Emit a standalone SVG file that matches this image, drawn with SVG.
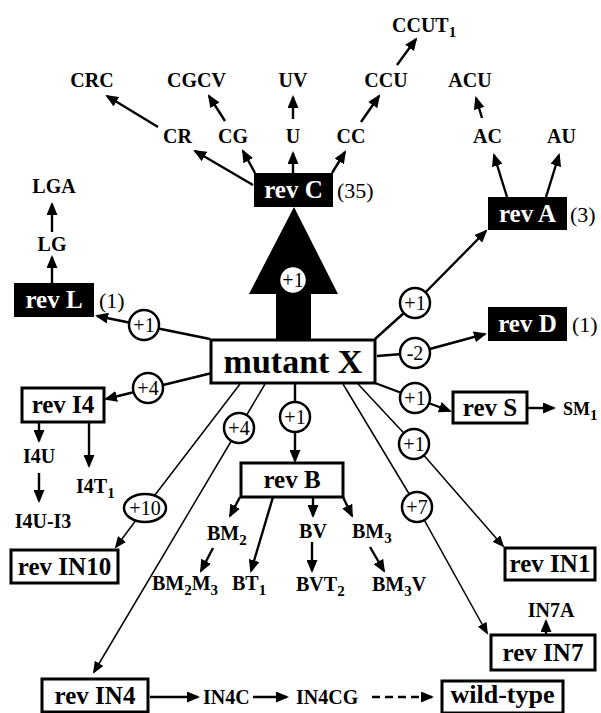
<svg xmlns="http://www.w3.org/2000/svg" width="601" height="713" viewBox="0 0 601 713">
<style>
text{font-family:"Liberation Serif","Times New Roman",serif;fill:#000}
.l{font-size:20px;font-weight:bold}
.b{font-size:25px;font-weight:bold;text-anchor:middle}
.w rect{fill:#fff;stroke:#000;stroke-width:3}
.k rect{fill:#000}
.k text{fill:#fff}
.n{font-size:22px}
.c circle,.c ellipse{fill:#fff;stroke:#000;stroke-width:2.5}
.c text{font-size:20px;text-anchor:middle}
.s{font-size:15px}
.t{stroke:#000;stroke-width:2.4;fill:none}
.h{stroke:#000;stroke-width:1.5;fill:none}
</style>
<defs>
<marker id="a" markerUnits="userSpaceOnUse" markerWidth="14" markerHeight="11" refX="11" refY="5.5" orient="auto"><path d="M0,0 L13,5.5 L0,11 z"/></marker>
<marker id="m" markerUnits="userSpaceOnUse" markerWidth="13" markerHeight="10" refX="10" refY="5" orient="auto"><path d="M0,0 L12,5 L0,10 z"/></marker>
</defs>
<g id="connectors">
<polygon points="276,340 276,294 249,294 294,207 338,294 311,294 311,340"/>
<g class="t" marker-end="url(#a)">
<line x1="253" y1="185" x2="195" y2="151"/>
<line x1="255" y1="173" x2="243" y2="151"/>
<line x1="293" y1="173" x2="293" y2="153"/>
<line x1="332" y1="173" x2="345" y2="152"/>
<line x1="293" y1="119" x2="293" y2="97"/>
<line x1="158" y1="127" x2="107" y2="96"/>
<line x1="225" y1="121" x2="209" y2="96"/>
<line x1="361" y1="122" x2="379" y2="96"/>
<line x1="397" y1="65" x2="416" y2="39"/>
<line x1="507" y1="197" x2="494" y2="155"/>
<line x1="546" y1="197" x2="559" y2="155"/>
<line x1="482" y1="118" x2="476" y2="98"/>
<line x1="52" y1="283" x2="52" y2="257"/>
<line x1="52" y1="232" x2="52" y2="204"/>
<line x1="39" y1="422" x2="39" y2="441"/>
<line x1="89" y1="422" x2="89" y2="466"/>
<line x1="39" y1="473" x2="39" y2="501"/>
<line x1="240" y1="497" x2="230" y2="516"/>
<line x1="273" y1="497" x2="251" y2="571"/>
<line x1="313" y1="497" x2="313" y2="516"/>
<line x1="343" y1="497" x2="352" y2="516"/>
<line x1="213" y1="548" x2="201" y2="571"/>
<line x1="312" y1="542" x2="312" y2="571"/>
<line x1="370" y1="547" x2="384" y2="571"/>
<line x1="527" y1="408" x2="554" y2="408"/>
<line x1="546" y1="635" x2="546" y2="621"/>
<line x1="150" y1="697" x2="198" y2="697"/>
<line x1="253" y1="697" x2="287" y2="697"/>
<line x1="372" y1="697" x2="432" y2="697" stroke-dasharray="8,5"/>
<line x1="210" y1="339" x2="97" y2="316"/>
<line x1="212" y1="373" x2="106" y2="399"/>
<line x1="295" y1="383" x2="295" y2="461"/>
</g>
<path class="t" d="M375,339 L415,303"/>
<line class="t" x1="415" y1="303" x2="486" y2="231" marker-end="url(#a)"/>
<path class="t" d="M377,356 L415,353"/>
<line class="t" x1="415" y1="353" x2="485" y2="334" marker-end="url(#a)"/>
<path class="t" d="M375,383 L415,398"/>
<line class="t" x1="415" y1="398" x2="450" y2="411" marker-end="url(#a)"/>
<g class="h">
<path d="M358,384 L414,444"/>
<line x1="414" y1="444" x2="503" y2="546" marker-end="url(#m)"/>
<path d="M343,384 L417,507"/>
<line x1="417" y1="507" x2="487" y2="633" marker-end="url(#m)"/>
<path d="M240,384 L145,508"/>
<line x1="145" y1="508" x2="116" y2="547" marker-end="url(#m)"/>
<path d="M265,384 L239,428"/>
<line x1="239" y1="428" x2="94" y2="672" marker-end="url(#m)"/>
</g>
</g>
<g id="badges" class="c">
<circle cx="293" cy="280" r="14" stroke="none"/><text x="293" y="287">+1</text>
<circle cx="144" cy="325" r="15"/><text x="144" y="332">+1</text>
<circle cx="148" cy="388" r="15"/><text x="148" y="395">+4</text>
<circle cx="415" cy="303" r="15"/><text x="415" y="310">+1</text>
<circle cx="415" cy="353" r="15"/><text x="415" y="360">-2</text>
<circle cx="415" cy="398" r="15"/><text x="415" y="405">+1</text>
<circle cx="414" cy="444" r="15"/><text x="414" y="451">+1</text>
<circle cx="295" cy="417" r="15"/><text x="295" y="424">+1</text>
<circle cx="239" cy="428" r="15"/><text x="239" y="435">+4</text>
<ellipse cx="145" cy="508" rx="21" ry="14"/><text x="145" y="515">+10</text>
<circle cx="417" cy="507" r="15"/><text x="417" y="514">+7</text>
</g>
<g id="mutantX" class="w"><rect x="211" y="340" width="164" height="43"/><text x="293" y="373" text-anchor="middle" style="font-size:34px;font-weight:bold">mutant X</text></g>
<g id="revC" class="k"><rect x="254" y="173" width="79" height="34"/><text class="b" x="293.5" y="198">rev C</text></g>
<text class="n" x="337" y="198">(35)</text>
<g id="revA" class="k"><rect x="488" y="197" width="79" height="33"/><text class="b" x="527.5" y="222">rev A</text></g>
<text class="n" x="570" y="222">(3)</text>
<g id="revD" class="k"><rect x="488" y="307" width="79" height="34"/><text class="b" x="527.5" y="332">rev D</text></g>
<text class="n" x="572" y="332">(1)</text>
<g id="revL" class="k"><rect x="14" y="283" width="80" height="34"/><text class="b" x="54" y="308">rev L</text></g>
<text class="n" x="99" y="308">(1)</text>
<g id="revI4" class="w"><rect x="22" y="388" width="82" height="34"/><text class="b" x="63" y="413">rev I4</text></g>
<g id="revS" class="w"><rect x="453" y="392" width="74" height="31"/><text class="b" x="490" y="416">rev S</text></g>
<g id="revB" class="w"><rect x="241" y="463" width="102" height="34"/><text class="b" x="292" y="488">rev B</text></g>
<g id="revIN10" class="w"><rect x="11" y="550" width="107" height="33"/><text class="b" x="64.5" y="575">rev IN10</text></g>
<g id="revIN1" class="w"><rect x="505" y="548" width="90" height="32"/><text class="b" x="550" y="572">rev IN1</text></g>
<g id="revIN7" class="w"><rect x="491" y="635" width="104" height="35"/><text class="b" x="543" y="661">rev IN7</text></g>
<g id="revIN4" class="w"><rect x="42" y="679" width="106" height="33"/><text class="b" x="95" y="704">rev IN4</text></g>
<g id="wildtype" class="w"><rect x="442" y="681" width="121" height="32"/><text class="b" x="502.5" y="703" style="font-size:26px">wild-type</text></g>
<g id="labels" class="l">
<text id="CRC" x="92" y="87" text-anchor="middle">CRC</text>
<text id="CGCV" x="196.5" y="87" text-anchor="middle">CGCV</text>
<text id="UV" x="293" y="87" text-anchor="middle">UV</text>
<text id="CCU" x="386" y="87" text-anchor="middle">CCU</text>
<text id="ACU" x="470" y="87" text-anchor="middle">ACU</text>
<text id="CCUT1" x="392" y="32">CCUT<tspan class="s" dy="5">1</tspan></text>
<text id="CR" x="177.5" y="143" text-anchor="middle">CR</text>
<text id="CG" x="233" y="143" text-anchor="middle">CG</text>
<text id="U" x="293" y="143" text-anchor="middle">U</text>
<text id="CC" x="351" y="143" text-anchor="middle">CC</text>
<text id="AC" x="487.5" y="143" text-anchor="middle">AC</text>
<text id="AU" x="561.5" y="143" text-anchor="middle">AU</text>
<text id="LGA" x="54" y="193" text-anchor="middle">LGA</text>
<text id="LG" x="52" y="251" text-anchor="middle">LG</text>
<text id="I4U" x="39" y="463" text-anchor="middle">I4U</text>
<text id="I4T1" x="76" y="493">I4T<tspan class="s" dy="5">1</tspan></text>
<text id="I4U-I3" x="43" y="528" text-anchor="middle">I4U-I3</text>
<text id="BM2" x="207" y="540">BM<tspan class="s" dy="5">2</tspan></text>
<text id="BV" x="313" y="538" text-anchor="middle">BV</text>
<text id="BM3" x="352" y="538">BM<tspan class="s" dy="5">3</tspan></text>
<text id="BM2M3" x="152" y="590">BM<tspan class="s" dy="5">2</tspan><tspan dy="-5">M</tspan><tspan class="s" dy="5">3</tspan></text>
<text id="BT1" x="232" y="590">BT<tspan class="s" dy="5">1</tspan></text>
<text id="BVT2" x="296" y="591">BVT<tspan class="s" dy="5">2</tspan></text>
<text id="BM3V" x="372" y="591">BM<tspan class="s" dy="5">3</tspan><tspan dy="-5">V</tspan></text>
<text id="SM1" x="563" y="415" style="font-size:18px">SM<tspan class="s" dy="5">1</tspan></text>
<text id="IN7A" x="551" y="617" text-anchor="middle">IN7A</text>
<text id="IN4C" x="203" y="704">IN4C</text>
<text id="IN4CG" x="296" y="704">IN4CG</text>
</g>
</svg>
